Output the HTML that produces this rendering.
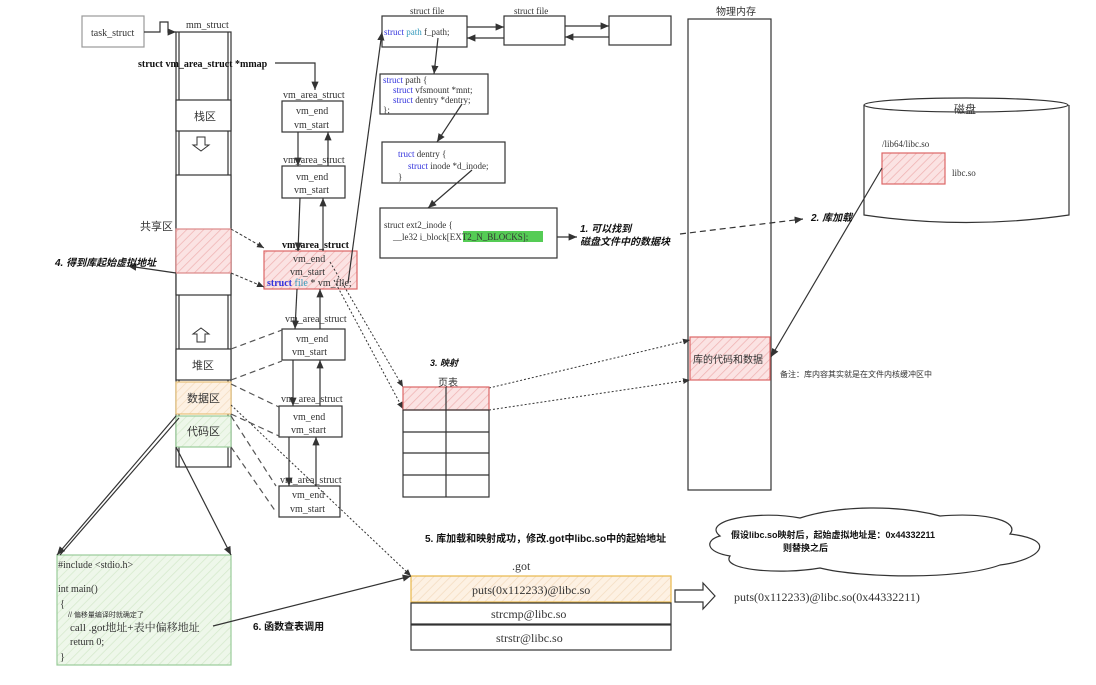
<!DOCTYPE html>
<html><head><meta charset="utf-8"><style>
html,body{margin:0;padding:0;background:#fff;}
svg{display:block;}
text{font-family:"Liberation Serif","Noto Serif CJK SC",serif;fill:#333;}
.cn{font-family:"Liberation Sans","Noto Sans CJK SC",sans-serif;}
.b{font-weight:bold;fill:#111;}
.bi{font-weight:bold;font-style:italic;fill:#111;}
.kw{fill:#3333dd;}
.ty{fill:#3399bb;}
</style></head><body>
<svg width="1096" height="685" viewBox="0 0 1096 685" xmlns="http://www.w3.org/2000/svg">
<defs>
<marker id="a" markerWidth="8" markerHeight="8" refX="7" refY="4" orient="auto"><path d="M0,1 L7,4 L0,7 z" fill="#333"/></marker>
<pattern id="hr" width="6" height="6" patternUnits="userSpaceOnUse" patternTransform="rotate(45)"><rect width="6" height="6" fill="#fbe3e3"/><line x1="0" y1="0" x2="0" y2="6" stroke="#efb3b3" stroke-width="1.5"/></pattern>
<pattern id="hg" width="6" height="6" patternUnits="userSpaceOnUse" patternTransform="rotate(45)"><rect width="6" height="6" fill="#eef7ea"/><line x1="0" y1="0" x2="0" y2="6" stroke="#d5e9cc" stroke-width="1.5"/></pattern>
<pattern id="ho" width="6" height="6" patternUnits="userSpaceOnUse" patternTransform="rotate(45)"><rect width="6" height="6" fill="#fdf1e3"/><line x1="0" y1="0" x2="0" y2="6" stroke="#f4dcc0" stroke-width="1.5"/></pattern>
</defs>
<g fill="none" stroke="#333" stroke-width="1.2">
<rect x="82" y="16" width="62" height="31" stroke="#999"/>
<path d="M144,32 L160,32 L160,22 L168,22 L168,32 L176,32" marker-end="url(#a)"/>
<rect x="176" y="32" width="55" height="435"/>
<line x1="179" y1="32" x2="179" y2="467"/><line x1="228" y1="32" x2="228" y2="467"/>
<rect x="176" y="100" width="55" height="31" fill="#fff"/>
<rect x="176" y="175" width="55" height="120" fill="#fff"/>
<rect x="176" y="229" width="55" height="44" fill="url(#hr)" stroke="#d88"/>
<rect x="176" y="349" width="55" height="31" fill="#fff"/>
<rect x="176" y="382" width="55" height="32" fill="url(#ho)" stroke="#e8c27a"/>
<rect x="176" y="416" width="55" height="31" fill="url(#hg)" stroke="#9c9"/>
<path d="M197,137 h8 v8 h4 l-8,6 l-8,-6 h4 z" stroke-width="1"/>
<path d="M197,342 h8 v-8 h4 l-8,-6 l-8,6 h4 z" stroke-width="1"/>
<path d="M275,63 L315,63 L315,90" marker-end="url(#a)"/>
<rect x="282" y="101" width="61" height="31"/>
<rect x="282" y="166" width="63" height="32"/>
<rect x="264" y="251" width="93" height="38" fill="url(#hr)" stroke="#d66"/>
<rect x="282" y="329" width="63" height="31"/>
<rect x="279" y="406" width="63" height="31"/>
<rect x="279" y="486" width="61" height="31"/>
<line x1="298" y1="132" x2="298" y2="166" marker-end="url(#a)"/><line x1="328" y1="166" x2="328" y2="132" marker-end="url(#a)"/>
<line x1="300" y1="198" x2="298" y2="251" marker-end="url(#a)"/><line x1="323" y1="251" x2="323" y2="198" marker-end="url(#a)"/>
<line x1="297" y1="289" x2="295" y2="329" marker-end="url(#a)"/><line x1="320" y1="329" x2="320" y2="289" marker-end="url(#a)"/>
<line x1="293" y1="360" x2="293" y2="406" marker-end="url(#a)"/><line x1="320" y1="406" x2="320" y2="360" marker-end="url(#a)"/>
<line x1="289" y1="437" x2="289" y2="486" marker-end="url(#a)"/><line x1="316" y1="486" x2="316" y2="437" marker-end="url(#a)"/>
<line x1="348" y1="283" x2="382" y2="32" marker-end="url(#a)"/>
<g stroke-dasharray="3,2" stroke-width="1"><line x1="231" y1="229" x2="264" y2="248" marker-end="url(#a)"/><line x1="231" y1="273" x2="264" y2="287" marker-end="url(#a)"/></g>
<g stroke-dasharray="6,4" stroke-width="1.2" stroke="#555">
<line x1="231" y1="349" x2="282" y2="330"/><line x1="231" y1="380" x2="282" y2="361"/>
<line x1="231" y1="384" x2="279" y2="407"/><line x1="231" y1="414" x2="279" y2="436"/>
<line x1="231" y1="416" x2="276" y2="486"/><line x1="231" y1="447" x2="276" y2="512"/>
</g>
<line x1="176" y1="273" x2="128" y2="266" marker-end="url(#a)"/>
<g stroke-dasharray="2,2" stroke-width="1">
<line x1="330" y1="262" x2="403" y2="387" marker-end="url(#a)"/>
<line x1="334" y1="280" x2="403" y2="409" marker-end="url(#a)"/>
<line x1="231" y1="405" x2="411" y2="576" marker-end="url(#a)"/>
<line x1="489" y1="388" x2="690" y2="340" marker-end="url(#a)"/>
<line x1="489" y1="410" x2="690" y2="380" marker-end="url(#a)"/>
</g>
<rect x="382" y="16" width="85" height="31"/>
<rect x="504" y="16" width="61" height="29"/>
<rect x="609" y="16" width="62" height="29"/>
<line x1="467" y1="27" x2="504" y2="27" marker-end="url(#a)"/><line x1="504" y1="38" x2="467" y2="38" marker-end="url(#a)"/>
<line x1="565" y1="26" x2="609" y2="26" marker-end="url(#a)"/><line x1="609" y1="37" x2="565" y2="37" marker-end="url(#a)"/>
<rect x="380" y="74" width="108" height="40"/>
<rect x="382" y="142" width="123" height="41"/>
<rect x="380" y="208" width="177" height="50"/>
<line x1="438" y1="38" x2="434" y2="74" marker-end="url(#a)"/>
<line x1="462" y1="104" x2="437" y2="142" marker-end="url(#a)"/>
<line x1="472" y1="170" x2="428" y2="208" marker-end="url(#a)"/>
<line x1="557" y1="237" x2="577" y2="237" marker-end="url(#a)"/>
<line x1="680" y1="234" x2="803" y2="219" stroke-dasharray="6,4" marker-end="url(#a)"/>
<rect x="688" y="19" width="83" height="471"/>
<rect x="690" y="337" width="80" height="43" fill="url(#hr)" stroke="#d66"/>
<path d="M864,105 L864,215 Q966,230 1069,215 L1069,105"/>
<ellipse cx="966" cy="105" rx="102" ry="7" fill="#fff"/>
<rect x="882" y="153" width="63" height="31" fill="url(#hr)" stroke="#d66"/>
<line x1="882" y1="168" x2="771" y2="357" marker-end="url(#a)"/>
<rect x="403" y="387" width="86" height="23" fill="url(#hr)" stroke="#d66"/>
<rect x="403" y="410" width="86" height="87"/>
<line x1="446" y1="387" x2="446" y2="497"/>
<line x1="403" y1="432" x2="489" y2="432"/><line x1="403" y1="453" x2="489" y2="453"/><line x1="403" y1="475" x2="489" y2="475"/>
<rect x="411" y="576" width="260" height="26" fill="url(#ho)" stroke="#e8b84a"/>
<rect x="411" y="603" width="260" height="21"/>
<rect x="411" y="625" width="260" height="25"/>
<path d="M675,590 L703,590 L703,583 L715,596 L703,609 L703,602 L675,602 z"/>
<path d="M720,536 C700,520 760,510 800,518 C840,505 900,505 940,516 C990,512 1020,522 1010,534 C1060,540 1040,560 1000,565 C960,580 860,578 820,568 C780,575 720,570 730,556 C705,552 705,540 720,536 z"/>
<rect x="57" y="555" width="174" height="110" fill="url(#hg)" stroke="#9c9"/>
<line x1="176" y1="416" x2="57" y2="555" marker-end="url(#a)"/>
<line x1="179" y1="418" x2="60" y2="555"/>
<line x1="176" y1="447" x2="231" y2="555" marker-end="url(#a)"/>
<line x1="213" y1="626" x2="411" y2="576" marker-end="url(#a)"/>
</g>
<g font-size="10">
<text x="91" y="36">task_struct</text>
<text x="186" y="28">mm_struct</text>
<text x="138" y="67" class="b" font-size="10">struct vm_area_struct *mmap</text>
<text x="194" y="120" class="cn" font-size="11">栈区</text>
<text x="140" y="230" class="cn" font-size="11">共享区</text>
<text x="192" y="369" class="cn" font-size="11">堆区</text>
<text x="187" y="402" class="cn" font-size="11">数据区</text>
<text x="187" y="435" class="cn" font-size="11">代码区</text>
<text x="55" y="266" class="cn bi" font-size="10">4. 得到库起始虚拟地址</text>
<text x="283" y="98">vm_area_struct</text>
<text x="296" y="114">vm_end</text><text x="294" y="128">vm_start</text>
<text x="283" y="163">vm_area_struct</text>
<text x="296" y="180">vm_end</text><text x="294" y="193">vm_start</text>
<text x="282" y="248" class="b">vm_area_struct</text>
<text x="293" y="262">vm_end</text><text x="290" y="275">vm_start</text>
<text x="267" y="286"><tspan class="kw" font-weight="bold">struct</tspan> <tspan class="ty">file</tspan> * vm_file;</text>
<text x="285" y="322">vm_area_struct</text>
<text x="296" y="342">vm_end</text><text x="292" y="355">vm_start</text>
<text x="281" y="402">vm_area_struct</text>
<text x="293" y="420">vm_end</text><text x="291" y="433">vm_start</text>
<text x="280" y="483">vm_area_struct</text>
<text x="292" y="498">vm_end</text><text x="290" y="512">vm_start</text>
<text x="410" y="14" font-size="9">struct file</text>
<text x="514" y="14" font-size="9">struct file</text>
<text x="384" y="35" font-size="9"><tspan class="kw">struct</tspan> <tspan class="ty">path</tspan> f_path;</text>
<text x="383" y="83" font-size="9"><tspan class="kw">struct</tspan> path {</text>
<text x="393" y="93" font-size="9"><tspan class="kw">struct</tspan> vfsmount *mnt;</text>
<text x="393" y="103" font-size="9"><tspan class="kw">struct</tspan> dentry *dentry;</text>
<text x="383" y="113" font-size="9">};</text>
<text x="398" y="157" font-size="9"><tspan class="kw">truct</tspan> dentry {</text>
<text x="408" y="169" font-size="9"><tspan class="kw">struct</tspan> inode *d_inode;</text>
<text x="398" y="180" font-size="9" fill="#3a3">}</text>
<text x="384" y="228" font-size="9">struct ext2_inode {</text>
<rect x="463" y="231" width="80" height="11" fill="#5c5"/>
<text x="393" y="240" font-size="9">__le32  i_block[EXT2_N_BLOCKS];</text>
<text x="580" y="232" class="cn bi" font-size="10">1. 可以找到</text>
<text x="580" y="245" class="cn bi" font-size="10">磁盘文件中的数据块</text>
<text x="716" y="15" class="cn" font-size="10">物理内存</text>
<text x="693" y="363" class="cn" font-size="10">库的代码和数据</text>
<text x="780" y="377" class="cn" font-size="8">备注：库内容其实就是在文件内核缓冲区中</text>
<text x="954" y="113" class="cn" font-size="11">磁盘</text>
<text x="882" y="147" font-size="9">/lib64/libc.so</text>
<text x="952" y="176" font-size="9">libc.so</text>
<text x="811" y="221" class="cn bi" font-size="10">2. 库加载</text>
<text x="430" y="366" class="cn bi" font-size="9">3. 映射</text>
<text x="438" y="386" class="cn" font-size="10">页表</text>
<text x="425" y="542" class="cn b" font-size="10">5. 库加载和映射成功，修改.got中libc.so中的起始地址</text>
<text x="512" y="570" font-size="12">.got</text>
<text x="472" y="594" font-size="12">puts(0x112233)@libc.so</text>
<text x="491" y="618" font-size="12">strcmp@libc.so</text>
<text x="496" y="642" font-size="12">strstr@libc.so</text>
<text x="734" y="601" font-size="12">puts(0x112233)@libc.so(0x44332211)</text>
<text x="731" y="538" class="cn b" font-size="9">假设libc.so映射后，起始虚拟地址是：0x44332211</text>
<text x="783" y="551" class="cn b" font-size="9">则替换之后</text>
<text x="58" y="568">#include &lt;stdio.h&gt;</text>
<text x="58" y="592">int main()</text>
<text x="60" y="607">{</text>
<text x="68" y="617" class="cn" font-size="7">// 偏移量编译时就确定了</text>
<text x="70" y="631" font-size="11">call .got地址+表中偏移地址</text>
<text x="70" y="645">return 0;</text>
<text x="60" y="660">}</text>
<text x="253" y="630" class="cn b" font-size="10">6. 函数查表调用</text>
</g>
</svg>
</body></html>
